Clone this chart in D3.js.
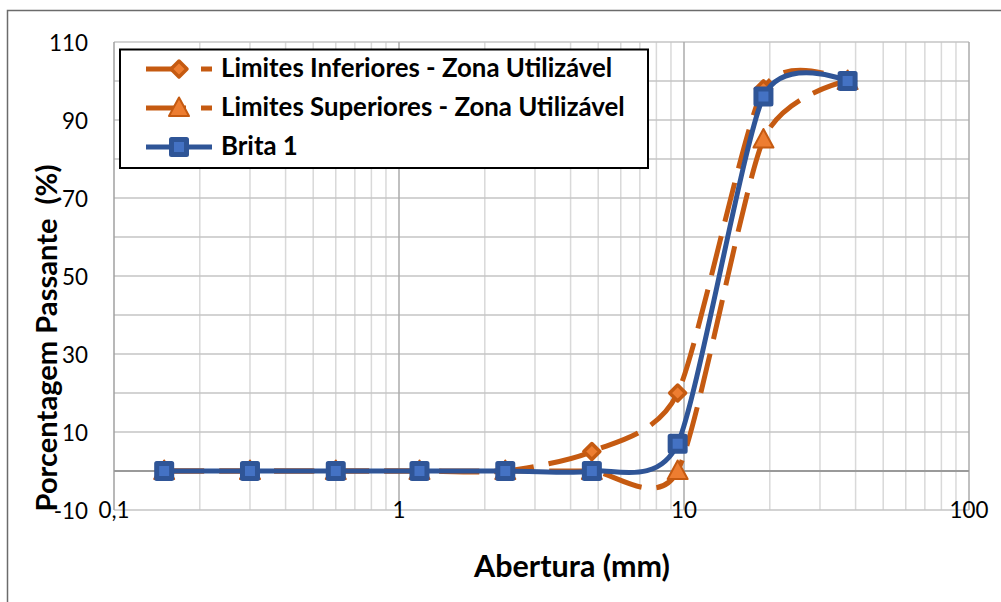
<!DOCTYPE html>
<html>
<head>
<meta charset="utf-8">
<script src="https://cdn.jsdelivr.net/npm/d3@7/dist/d3.min.js"></script>
<style>
  html, body { margin: 0; padding: 0; background: #ffffff; }
  svg { display: block; }
  text { font-family: Lato, "Noto Sans", "DejaVu Sans", sans-serif; fill: #000; white-space: pre; }
</style>
</head>
<body>
<svg id="chart" width="1001" height="602"></svg>
<script>
// Sieve openings (mm) and percentage passing for each series
const sieves = [0.15, 0.3, 0.6, 1.18, 2.36, 4.75, 9.5, 19, 37.5];
const limInferiores = [0, 0, 0, 0, 0, 5, 20, 98, 100];
const limSuperiores = [0, 0, 0, 0, 0, 0, 0, 85, 100];
const brita1 = [0, 0, 0, 0, 0, 0, 7, 96, 100];

const seriesNames = [
  "Limites Inferiores - Zona Utilizável",
  "Limites Superiores - Zona Utilizável",
  "Brita 1"
];

const xTickValues = [0.1, 1, 10, 100];
const xTickLabels = ["0,1", "1", "10", "100"];
const yTickValues = [-10, 10, 30, 50, 70, 90, 110];
const yGridValues = [-10, 0, 10, 20, 30, 40, 50, 60, 70, 80, 90, 100, 110];

const xTitle = "Abertura (mm)";
const yTitle = "Porcentagem Passante  (%)";

const svg = d3.select("#chart");

// Outer chart frame
svg.append("rect")
  .attr("x", 7.5).attr("y", 10.5)
  .attr("width", 1020).attr("height", 620)
  .attr("fill", "#fff")
  .attr("stroke", "#6b6b6b").attr("stroke-width", 1.5);

const plot = { left: 114, right: 969, top: 42, bottom: 510 };

const x = d3.scaleLog().domain([0.1, 100]).range([plot.left, plot.right]);
const y = d3.scaleLinear().domain([-10, 110]).range([plot.bottom, plot.top]);

// Gridlines
const grid = svg.append("g");
const minorX = [];
[0.1, 1, 10].forEach(dec => { for (let k = 2; k <= 9; k++) minorX.push(dec * k); });
grid.selectAll("line.minx").data(minorX).enter().append("line")
  .attr("x1", d => x(d)).attr("x2", d => x(d))
  .attr("y1", plot.top).attr("y2", plot.bottom)
  .attr("stroke", "#d9d9d9").attr("stroke-width", 1.5);
grid.selectAll("line.hy").data(yGridValues).enter().append("line")
  .attr("x1", plot.left).attr("x2", plot.right)
  .attr("y1", d => y(d)).attr("y2", d => y(d))
  .attr("stroke", "#c4c4c4").attr("stroke-width", 1.5);
grid.selectAll("line.majx").data([1, 10, 100]).enter().append("line")
  .attr("x1", d => x(d)).attr("x2", d => x(d))
  .attr("y1", plot.top).attr("y2", plot.bottom)
  .attr("stroke", "#ababab").attr("stroke-width", 1.5);

// Axis lines: value axis at the left, category axis crossing at 0
grid.append("line")
  .attr("x1", plot.left).attr("x2", plot.left)
  .attr("y1", plot.top).attr("y2", plot.bottom)
  .attr("stroke", "#a0a0a0").attr("stroke-width", 1.5);
grid.append("line")
  .attr("x1", plot.left).attr("x2", plot.right)
  .attr("y1", y(0)).attr("y2", y(0))
  .attr("stroke", "#9a9a9a").attr("stroke-width", 1.8);

// Helper: pick a font size so a string spans the given width
function fitText(sel, targetWidth, baseSize) {
  sel.style("font-size", baseSize + "px");
  const w = sel.node().getComputedTextLength();
  const size = w > 0 ? baseSize * targetWidth / w : baseSize;
  sel.style("font-size", size.toFixed(2) + "px");
  return size;
}

// Tick labels
const yLabels = svg.append("g").selectAll("text").data(yTickValues).enter().append("text")
  .attr("x", 88).attr("y", d => y(d))
  .attr("text-anchor", "end").attr("dominant-baseline", "central")
  .text(d => String(d));
const tickFont = fitText(yLabels.filter(d => d === 110), 39, 21);
yLabels.style("font-size", tickFont + "px");
svg.append("g").selectAll("text").data(xTickValues).enter().append("text")
  .attr("x", d => x(d)).attr("y", 509)
  .attr("text-anchor", "middle").attr("dominant-baseline", "central")
  .style("font-size", tickFont + "px")
  .text((d, i) => xTickLabels[i]);

// Axis titles
const xt = svg.append("text")
  .attr("x", 572).attr("y", 577)
  .attr("text-anchor", "middle")
  .style("font-weight", "bold")
  .text(xTitle);
fitText(xt, 196, 26);

const yt = svg.append("text")
  .attr("transform", "translate(57,338) rotate(-90)")
  .attr("text-anchor", "middle")
  .style("font-weight", "bold")
  .text(yTitle);
fitText(yt, 347, 26);

// Series styling
const orangeLine = "#c55a11";
const orangeFill = "#ed7d31";
const blueLine = "#2f5597";
const blueFill = "#4472c4";
const longDash = "40,15";

const curve = d3.curveCardinal.tension(0.3);
const lineGen = d3.line().x(d => x(d[0])).y(d => y(d[1])).curve(curve);

function markerPath(kind) {
  if (kind === "diamond") return "M0,-8L8,0L0,8L-8,0Z";
  if (kind === "triangle") return "M0,-10.5L10,8L-10,8Z";
  return "M-7.5,-7.5L7.5,-7.5L7.5,7.5L-7.5,7.5Z";
}

const series = [
  { name: seriesNames[0], values: limInferiores, stroke: orangeLine, fill: orangeFill, dash: longDash, marker: "diamond", mstroke: 3.5 },
  { name: seriesNames[1], values: limSuperiores, stroke: orangeLine, fill: orangeFill, dash: longDash, marker: "triangle", mstroke: 2 },
  { name: seriesNames[2], values: brita1, stroke: blueLine, fill: blueFill, dash: null, marker: "square", mstroke: 5 }
];

const marks = svg.append("g");
series.forEach(s => {
  const pts = sieves.map((v, i) => [v, s.values[i]]);
  const g = marks.append("g");
  g.append("path")
    .attr("d", lineGen(pts))
    .attr("fill", "none")
    .attr("stroke", s.stroke)
    .attr("stroke-width", 5)
    .attr("stroke-dasharray", s.dash)
    .attr("stroke-linejoin", "round");
  g.selectAll("path.m").data(pts).enter().append("path")
    .attr("class", "m")
    .attr("transform", d => `translate(${x(d[0])},${y(d[1])})`)
    .attr("d", markerPath(s.marker))
    .attr("fill", s.fill)
    .attr("stroke", s.stroke)
    .attr("stroke-width", s.mstroke)
    .attr("stroke-linejoin", "round");
});

// Legend
const legend = svg.append("g");
legend.append("rect")
  .attr("x", 120).attr("y", 49.5)
  .attr("width", 528).attr("height", 118.5)
  .attr("fill", "#fff")
  .attr("stroke", "#000").attr("stroke-width", 2);

const rowBaselines = [77, 116, 155];
series.forEach((s, i) => {
  const cy = rowBaselines[i] - 8;
  legend.append("line")
    .attr("x1", 146).attr("x2", 212)
    .attr("y1", cy).attr("y2", cy)
    .attr("stroke", s.stroke).attr("stroke-width", 5)
    .attr("stroke-dasharray", s.dash);
  legend.append("path")
    .attr("transform", `translate(179,${cy})`)
    .attr("d", markerPath(s.marker))
    .attr("fill", s.fill)
    .attr("stroke", s.stroke)
    .attr("stroke-width", s.mstroke)
    .attr("stroke-linejoin", "round");
  legend.append("text")
    .attr("x", 221).attr("y", rowBaselines[i])
    .style("font-weight", "bold")
    .text(s.name);
});
// Same size for every legend row, fitted on the widest row
const legendTexts = legend.selectAll("text");
const legendSize = fitText(legendTexts.filter((d, i) => i === 1), 404, 21);
legendTexts.style("font-size", legendSize + "px");
</script>
</body>
</html>
